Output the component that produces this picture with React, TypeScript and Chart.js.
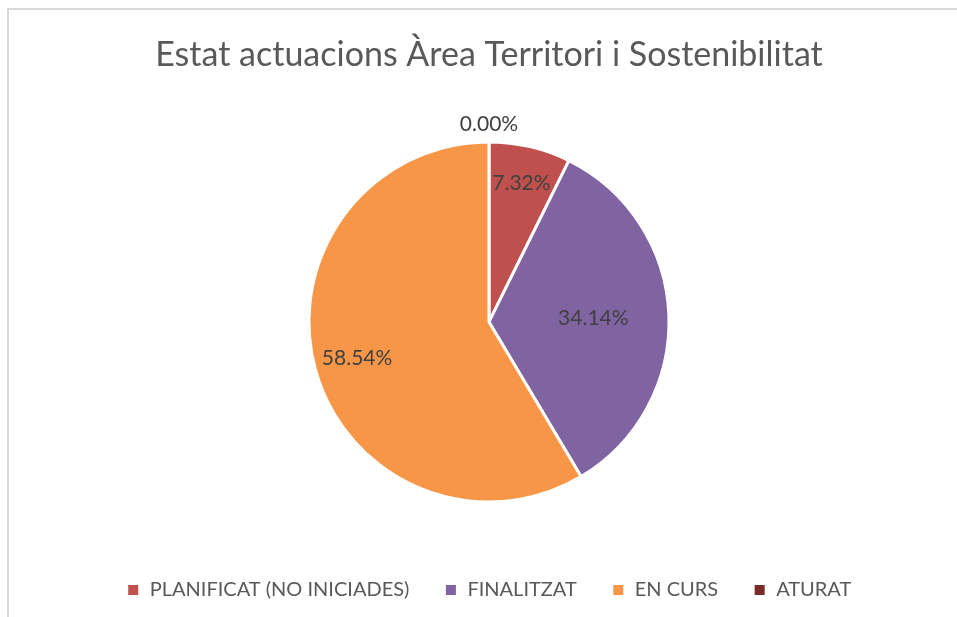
import React, { useEffect, useRef } from "react";
import { Chart, registerables } from "chart.js";

Chart.register(...registerables);

const TITLE = "Estat actuacions Àrea Territori i Sostenibilitat";
const categories = ["PLANIFICAT (NO INICIADES)", "FINALITZAT", "EN CURS", "ATURAT"];
const percentages = [7.32, 34.14, 58.54, 0.0];
const colors = ["#C0504D", "#8064A2", "#F79646", "#772C2A"];
const labelRadiusFactors = [0.79, 0.58, 0.76, 1.1];

const FONT = "Lato, 'Open Sans', sans-serif";

const dataLabelPlugin = {
  id: "pieDataLabels",
  afterDatasetsDraw(chart: any) {
    const ctx = chart.ctx;
    const meta = chart.getDatasetMeta(0);
    const data = chart.data.datasets[0].data as number[];
    ctx.save();
    ctx.font = `21px ${FONT}`;
    ctx.fillStyle = "#404040";
    ctx.textAlign = "center";
    ctx.textBaseline = "middle";
    meta.data.forEach((arc: any, i: number) => {
      const p = arc.getProps(["x", "y", "startAngle", "endAngle", "outerRadius"], true);
      const mid = (p.startAngle + p.endAngle) / 2;
      const r = p.outerRadius * labelRadiusFactors[i];
      const x = p.x + Math.cos(mid) * r;
      const y = p.y + Math.sin(mid) * r;
      ctx.fillText(data[i].toFixed(2) + "%", x, y);
    });
    ctx.restore();
  },
};

export default function App() {
  const ref = useRef<HTMLCanvasElement | null>(null);
  useEffect(() => {
    if (!ref.current) return;
    const chart = new Chart(ref.current, {
      type: "pie",
      data: {
        labels: categories,
        datasets: [
          {
            data: percentages,
            backgroundColor: colors,
            borderColor: "#ffffff",
            borderWidth: 3,
            radius: 180,
          },
        ],
      },
      options: {
        animation: false,
        responsive: false,
        layout: { padding: { left: 11, right: 0, top: 0, bottom: 7 } },
        plugins: {
          title: {
            display: true,
            text: TITLE,
            color: "#595959",
            font: { family: FONT, size: 34, weight: "normal" },
            padding: { top: 25, bottom: 23 },
          },
          legend: {
            display: true,
            position: "bottom",
            labels: {
              color: "#595959",
              font: { family: FONT, size: 20 },
              boxWidth: 13,
              boxHeight: 13,
              padding: 35,
            },
          },
          tooltip: { enabled: false },
        },
      },
      plugins: [dataLabelPlugin],
    });
    return () => chart.destroy();
  }, []);

  return (
    <div
      style={{
        position: "fixed",
        left: 0,
        top: 0,
        width: "100vw",
        height: "100vh",
        overflow: "hidden",
        background: "#fff",
      }}
    >
      <div
        style={{
          position: "absolute",
          left: 7,
          top: 8,
          width: 1000,
          height: 700,
          border: "2px solid #d9d9d9",
          boxSizing: "border-box",
        }}
      >
        <canvas ref={ref} width={949} height={607} style={{ display: "block" }} />
      </div>
    </div>
  );
}
